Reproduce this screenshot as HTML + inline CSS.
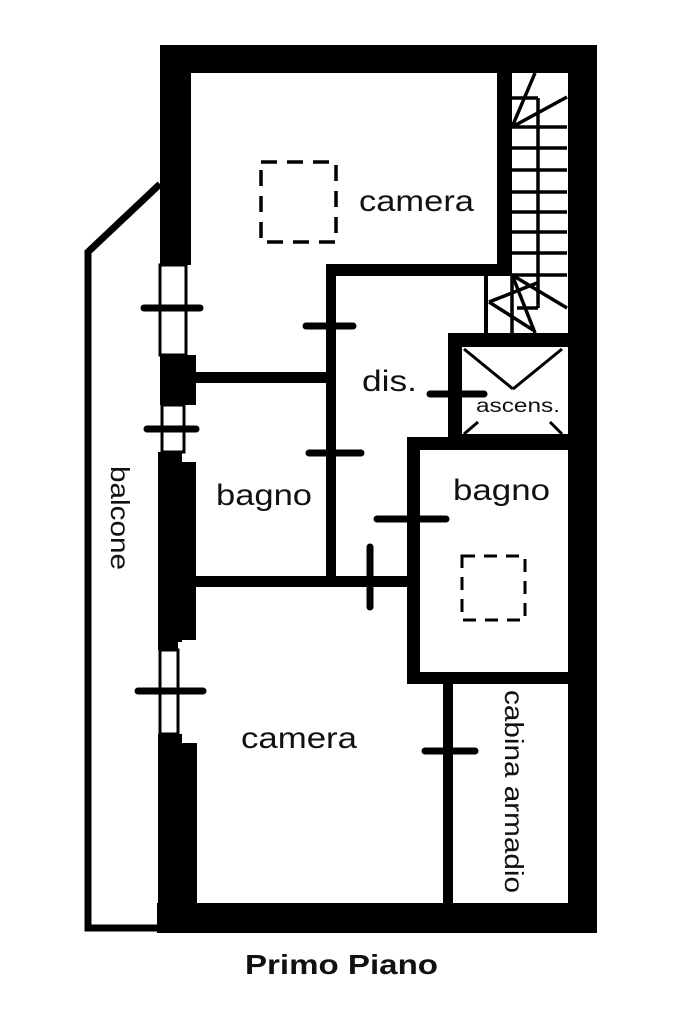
<!DOCTYPE html>
<html><head><meta charset="utf-8"><style>
html,body{margin:0;padding:0;background:#fff;}
svg{display:block;}
text{font-family:"Liberation Sans","DejaVu Sans",sans-serif;fill:#111;}
</style></head><body>
<svg width="683" height="1024" viewBox="0 0 683 1024" xmlns="http://www.w3.org/2000/svg">
<rect width="683" height="1024" fill="#fff"/>
<polyline points="160,184 88,252 88,928 160,928" fill="none" stroke="#000" stroke-width="7"/>
<rect x="165" y="45" width="432" height="28" fill="#000"/>
<rect x="568" y="45" width="29" height="888" fill="#000"/>
<rect x="157" y="903" width="440" height="30" fill="#000"/>
<rect x="160" y="45" width="31" height="220" fill="#000"/>
<rect x="160" y="265" width="26" height="90" fill="#fff" stroke="#000" stroke-width="3"/>
<rect x="160" y="355" width="36" height="50" fill="#000"/>
<rect x="162" y="405" width="22" height="47" fill="#fff" stroke="#000" stroke-width="3"/>
<rect x="158" y="452" width="24" height="190" fill="#000"/>
<rect x="180" y="462" width="16" height="178" fill="#000"/>
<rect x="160" y="650" width="18" height="84" fill="#fff" stroke="#000" stroke-width="3"/>
<rect x="158" y="734" width="24" height="170" fill="#000"/>
<rect x="178" y="743" width="19" height="162" fill="#000"/>
<rect x="158" y="640" width="20" height="10" fill="#000"/>
<line x1="144" y1="308" x2="200" y2="308" stroke="#000" stroke-width="7" stroke-linecap="round"/>
<line x1="147" y1="429" x2="196" y2="429" stroke="#000" stroke-width="7" stroke-linecap="round"/>
<line x1="138" y1="691" x2="203" y2="691" stroke="#000" stroke-width="7" stroke-linecap="round"/>
<rect x="497" y="72" width="15" height="204" fill="#000"/>
<rect x="327" y="264" width="185" height="12" fill="#000"/>
<rect x="326" y="264" width="10" height="320" fill="#000"/>
<rect x="194" y="372" width="136" height="11" fill="#000"/>
<rect x="194" y="576" width="216" height="11" fill="#000"/>
<rect x="484" y="276" width="4" height="57" fill="#000"/>
<g stroke="#000" stroke-width="3.5" fill="none">
<line x1="512" y1="98" x2="538" y2="98"/>
<line x1="538" y1="98" x2="538" y2="308"/>
<line x1="517" y1="308" x2="538" y2="308"/>
<line x1="512" y1="276" x2="512" y2="333"/>
<line x1="512" y1="127" x2="567" y2="127"/>
<line x1="512" y1="148" x2="567" y2="148"/>
<line x1="512" y1="170" x2="567" y2="170"/>
<line x1="512" y1="192" x2="567" y2="192"/>
<line x1="512" y1="212" x2="567" y2="212"/>
<line x1="512" y1="232" x2="567" y2="232"/>
<line x1="512" y1="253" x2="567" y2="253"/>
<line x1="512" y1="275" x2="567" y2="275"/>
<line x1="512" y1="127" x2="535" y2="73"/>
<line x1="512" y1="127" x2="567" y2="97"/>
<line x1="512" y1="275" x2="567" y2="308"/>
<line x1="489" y1="302" x2="537" y2="283"/>
<line x1="489" y1="302" x2="533" y2="330"/>
<line x1="513" y1="277" x2="535" y2="333"/>
</g>
<rect x="448" y="333" width="120" height="14" fill="#000"/>
<rect x="448" y="333" width="14" height="112" fill="#000"/>
<rect x="448" y="434" width="120" height="12" fill="#000"/>
<g stroke="#000" stroke-width="3">
<line x1="464" y1="349" x2="513" y2="389"/>
<line x1="562" y1="349" x2="513" y2="389"/>
<line x1="464" y1="434" x2="478" y2="422"/>
<line x1="562" y1="434" x2="550" y2="422"/>
</g>
<rect x="407" y="437" width="161" height="13" fill="#000"/>
<rect x="407" y="437" width="13" height="247" fill="#000"/>
<rect x="407" y="672" width="161" height="12" fill="#000"/>
<rect x="443" y="680" width="10" height="224" fill="#000"/>
<g stroke="#000" stroke-width="7" stroke-linecap="round">
<line x1="306" y1="326" x2="353" y2="326"/>
<line x1="309" y1="453" x2="361" y2="453"/>
<line x1="430" y1="394" x2="484" y2="394"/>
<line x1="377" y1="519" x2="446" y2="519"/>
<line x1="370" y1="547" x2="370" y2="607"/>
<line x1="425" y1="751" x2="475" y2="751"/>
</g>
<rect x="261" y="162" width="75" height="80" fill="none" stroke="#000" stroke-width="3.5" stroke-dasharray="16,10"/>
<rect x="462" y="556" width="63" height="64" fill="none" stroke="#000" stroke-width="3" stroke-dasharray="13,9"/>
<text x="359" y="211" font-size="30" textLength="115" lengthAdjust="spacingAndGlyphs">camera</text>
<text x="362" y="391" font-size="30" textLength="55" lengthAdjust="spacingAndGlyphs">dis.</text>
<text x="476" y="412" font-size="19" textLength="84" lengthAdjust="spacingAndGlyphs">ascens.</text>
<text x="216" y="505" font-size="30" textLength="96" lengthAdjust="spacingAndGlyphs">bagno</text>
<text x="453" y="500" font-size="30" textLength="97" lengthAdjust="spacingAndGlyphs">bagno</text>
<text x="241" y="748" font-size="30" textLength="116" lengthAdjust="spacingAndGlyphs">camera</text>
<text transform="translate(111,466) rotate(90)" font-size="26" textLength="104" lengthAdjust="spacingAndGlyphs">balcone</text>
<text transform="translate(505,690) rotate(90)" font-size="26" textLength="203" lengthAdjust="spacingAndGlyphs">cabina armadio</text>
<text x="245" y="974" font-size="28" font-weight="bold" textLength="193" lengthAdjust="spacingAndGlyphs">Primo Piano</text>
</svg>
</body></html>
